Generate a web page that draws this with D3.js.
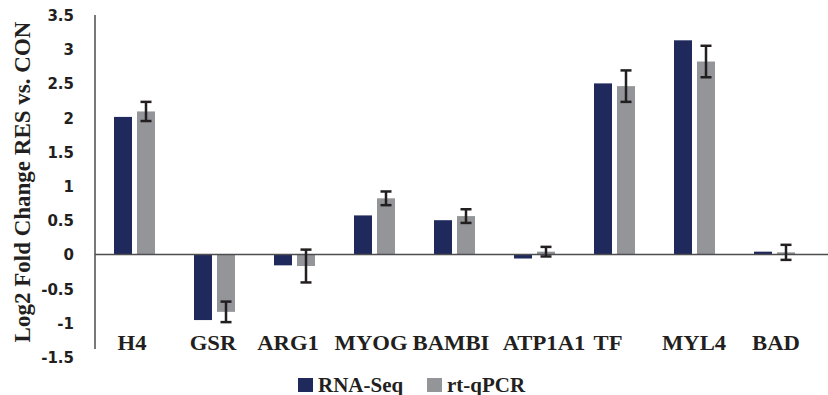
<!DOCTYPE html>
<html>
<head>
<meta charset="utf-8">
<script src="https://cdn.jsdelivr.net/npm/d3@7"></script>
<style>
  body { margin: 0; background: #fff; }
  .tick-label { font-family: "DejaVu Sans", sans-serif; font-weight: bold; font-size: 15px; fill: #231f20; }
  .cat-label, .legend-text, .y-title { font-family: "Liberation Serif", "Times New Roman", serif; font-weight: bold; fill: #231f20; }
</style>
</head>
<body>
<div class="chart"></div>
<script>
var svgWidth = 828;
var svgHeight = 395;

// data
var genes = ["H4", "GSR", "ARG1", "MYOG", "BAMBI", "ATP1A1", "TF", "MYL4", "BAD"];
var seriesNames = ["RNA-Seq", "rt-qPCR"];
var rnaSeq = [2.01, -0.96, -0.16, 0.57, 0.50, -0.06, 2.50, 3.13, 0.04];
var qpcr = [2.09, -0.84, -0.17, 0.82, 0.56, 0.04, 2.46, 2.82, 0.03];
var qpcrErr = [0.14, 0.15, 0.24, 0.10, 0.10, 0.07, 0.23, 0.23, 0.11];
var yTicks = [-1.5, -1, -0.5, 0, 0.5, 1, 1.5, 2, 2.5, 3, 3.5];
var colors = ["#1f295c", "#939598"];

// small sideways nudges of the gene labels, as in the original layout
var labelNudge = [-3, -2, -7, -4, -4, 9, -7, -1, 1];

var svg = d3.select(".chart")
  .append("svg")
  .attr("width", svgWidth)
  .attr("height", svgHeight);

// scales
var x0 = d3.scaleBand()
  .domain(genes)
  .range([95, 815]);

var x1 = d3.scaleBand()
  .domain(seriesNames)
  .range([-21, 20])
  .paddingInner(5 / 23);

var y = d3.scaleLinear()
  .domain([-1.5, 3.5])
  .range([357, 15]);

// rows for bars
var rows = [];
genes.forEach(function(g, i) {
  rows.push({gene: g, series: "RNA-Seq", value: rnaSeq[i], err: null});
  rows.push({gene: g, series: "rt-qPCR", value: qpcr[i], err: qpcrErr[i]});
});

// y axis labels
svg.append("g")
  .selectAll("text")
  .data(yTicks)
  .enter()
  .append("text")
  .attr("class", "tick-label")
  .attr("x", 74)
  .attr("y", d => y(d) + 6)
  .attr("text-anchor", "end")
  .text(d => d);

// bars
svg.append("g")
  .selectAll("rect")
  .data(rows)
  .enter()
  .append("rect")
  .attr("x", d => x0(d.gene) + x0.bandwidth() / 2 + x1(d.series))
  .attr("width", x1.bandwidth())
  .attr("y", d => y(Math.max(0, d.value)))
  .attr("height", d => Math.abs(y(d.value) - y(0)))
  .attr("fill", d => colors[seriesNames.indexOf(d.series)]);

// y axis line
svg.append("line")
  .attr("x1", 95).attr("x2", 95)
  .attr("y1", y(3.5)).attr("y2", y(-1.5) - 8)
  .attr("stroke", "#4d4d4f")
  .attr("stroke-width", 1.5);

// zero line
svg.append("line")
  .attr("x1", 95).attr("x2", svgWidth)
  .attr("y1", y(0)).attr("y2", y(0))
  .attr("stroke", "#4d4d4f")
  .attr("stroke-width", 1.5);

// error bars on rt-qPCR
var errRows = rows.filter(d => d.err !== null);
var errGroup = svg.append("g")
  .attr("stroke", "#231f20")
  .attr("stroke-width", 2.5);

errRows.forEach(function(d) {
  var cx = x0(d.gene) + x0.bandwidth() / 2 + x1(d.series) + x1.bandwidth() / 2;
  var top = y(d.value + d.err);
  var bottom = y(d.value - d.err);
  errGroup.append("line").attr("x1", cx).attr("x2", cx).attr("y1", top).attr("y2", bottom);
  errGroup.append("line").attr("x1", cx - 5.5).attr("x2", cx + 5.5).attr("y1", top).attr("y2", top);
  errGroup.append("line").attr("x1", cx - 5.5).attr("x2", cx + 5.5).attr("y1", bottom).attr("y2", bottom);
});

// category labels (the original is a bit stretched sideways)
svg.append("g")
  .selectAll("text")
  .data(genes)
  .enter()
  .append("text")
  .attr("class", "cat-label")
  .attr("transform", (d, i) => `translate(${x0(d) + x0.bandwidth() / 2 + labelNudge[i]}, 350) scale(1.08, 1)`)
  .attr("text-anchor", "middle")
  .style("font-size", "21px")
  .text(d => d);

// y title
svg.append("text")
  .attr("class", "y-title")
  .attr("transform", "translate(30, 182) rotate(-90)")
  .attr("text-anchor", "middle")
  .style("font-size", "23px")
  .text("Log2 Fold Change RES vs. CON");

// legend
var legendX = [298, 427];
var legend = svg.append("g");
seriesNames.forEach(function(s, i) {
  legend.append("rect")
    .attr("x", legendX[i])
    .attr("y", 378)
    .attr("width", 15)
    .attr("height", 14)
    .attr("fill", colors[i]);
  legend.append("text")
    .attr("class", "legend-text")
    .attr("transform", `translate(${legendX[i] + 20}, 392) scale(1.05, 1)`)
    .style("font-size", "20px")
    .text(s);
});
</script>
</body>
</html>
